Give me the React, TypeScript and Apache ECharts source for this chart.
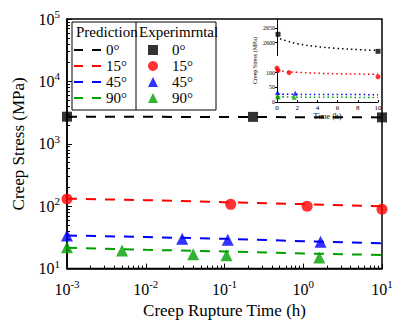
import React, { useEffect, useRef } from "react";
import * as echarts from "echarts";

const FONT = "Liberation Serif";

// main chart data
const timeGrid = [0.001, 0.01, 0.1, 1, 10];
const pred0 = [2720, 2705, 2690, 2670, 2650];
const pred15 = [132, 125, 116, 108, 100];
const pred45 = [34, 32, 30, 27.5, 25.5];
const pred90 = [21.5, 20, 18.8, 17.5, 16.5];

const exp0 = [[0.001, 2720], [0.23, 2700], [10, 2650]];
const exp15 = [[0.001, 130], [0.12, 107], [1.12, 100], [10, 89]];
const exp45 = [[0.001, 34], [0.029, 30], [0.11, 29], [1.66, 27]];
const exp90 = [[0.001, 22], [0.005, 19.5], [0.04, 17], [0.106, 16.3], [1.6, 15]];

// inset data
const in0pts = [[0.1, 2628], [10, 2570]];
const in0curve = [[0.3, 2613], [1, 2605], [2, 2596], [4, 2586], [6, 2580], [8, 2576], [10, 2573]];
const in15pts = [[0, 124], [0.1, 107], [1.2, 100], [10, 86]];
const in15curve = [[0.1, 108], [1, 103], [2, 101], [4, 98], [6, 96], [8, 95], [10, 94]];
const in45pts = [[0.05, 32], [1.8, 30]];
const in45curve = [[0.1, 27], [2, 26], [5, 25.5], [10, 25]];
const in90pts = [[0.05, 20], [0.1, 17], [1.7, 16]];
const in90curve = [[0.1, 18], [2, 16.5], [5, 16], [10, 15.5]];
const insetYTicks = [0, 50, 100, 2600, 2650];

const angles = ["0°", "15°", "45°", "90°"];
const colors = ["#000000", "#ff0000", "#0000ff", "#00a000"];
const symbols = ["rect", "circle", "triangle", "triangle"];
const predData = [pred0, pred15, pred45, pred90];
const expData = [exp0, exp15, exp45, exp90];
const inPts = [in0pts, in15pts, in45pts, in90pts];
const inCurves = [in0curve, in15curve, in45curve, in90curve];

const logFmt = (v: number) => `{b|10}{s|${Math.round(Math.log10(v))}}`;
const richSup = {
  b: { fontFamily: FONT, fontSize: 16, color: "#000" },
  s: { fontFamily: FONT, fontSize: 11, color: "#000", padding: [0, 0, 10, 0] },
};

export default function App() {
  const ref = useRef<HTMLDivElement>(null);
  useEffect(() => {
    if (!ref.current) return;
    const chart = echarts.init(ref.current, null, { renderer: "svg" });
    const series: any[] = [];
    angles.forEach((a, i) => {
      series.push({
        name: "p" + i,
        type: "line",
        xAxisIndex: 0,
        yAxisIndex: 0,
        data: timeGrid.map((t, k) => [t, predData[i][k]]),
        symbol: "none",
        lineStyle: { color: colors[i], width: 2, type: [10, 9] },
        itemStyle: { color: colors[i] },
      });
    });
    angles.forEach((a, i) => {
      series.push({
        name: "e" + i,
        type: "scatter",
        xAxisIndex: 0,
        yAxisIndex: 0,
        data: expData[i],
        symbol: symbols[i],
        symbolSize: i === 0 ? 10 : i === 1 ? 11 : 12,
        itemStyle: { color: colors[i] },
        z: 3,
      });
    });
    angles.forEach((a, i) => {
      series.push({
        name: "ic" + i,
        type: "line",
        xAxisIndex: 1,
        yAxisIndex: 1,
        data: inCurves[i],
        symbol: "none",
        smooth: true,
        lineStyle: { color: colors[i], width: 1.5, type: [1.5, 3] },
      });
      series.push({
        name: "ip" + i,
        type: "scatter",
        xAxisIndex: 1,
        yAxisIndex: 1,
        data: inPts[i],
        symbol: symbols[i],
        symbolSize: 5,
        itemStyle: { color: colors[i] },
      });
    });

    const option: any = {
      animation: false,
      backgroundColor: "#fff",
      textStyle: { fontFamily: FONT },
      grid: [
        { left: 67, right: 18, top: 19, bottom: 54, show: true, borderColor: "#000", borderWidth: 1.5, backgroundColor: "transparent" },
        { left: 277, right: 22, top: 19, bottom: 222 },
      ],
      xAxis: [
        {
          type: "log",
          gridIndex: 0,
          min: 0.001,
          max: 10,
          logBase: 10,
          name: "Creep Rupture Time (h)",
          nameLocation: "middle",
          nameGap: 32,
          nameTextStyle: { fontFamily: FONT, fontSize: 17, color: "#000" },
          axisLine: { lineStyle: { color: "#000", width: 1.5 } },
          axisTick: { inside: true, length: 5, lineStyle: { color: "#000" } },
          minorTick: { show: true, splitNumber: 9, length: 3, lineStyle: { color: "#000" } },
          splitLine: { show: false },
          axisLabel: { formatter: logFmt, rich: richSup, margin: 10, showMinLabel: true, showMaxLabel: true },
        },
        {
          type: "value",
          gridIndex: 1,
          min: 0,
          max: 10,
          interval: 2,
          name: "Time (h)",
          nameLocation: "middle",
          nameGap: 10,
          nameTextStyle: { fontFamily: FONT, fontSize: 8, color: "#000" },
          axisLine: { onZero: false, lineStyle: { color: "#000", width: 1 } },
          axisTick: { inside: true, length: 2, lineStyle: { color: "#000" } },
          splitLine: { show: false },
          axisLabel: { fontFamily: FONT, fontSize: 7, color: "#000", margin: 2 },
        },
      ],
      yAxis: [
        {
          type: "log",
          gridIndex: 0,
          min: 10,
          max: 100000,
          logBase: 10,
          name: "Creep Stress (MPa)",
          nameLocation: "middle",
          nameGap: 40,
          nameTextStyle: { fontFamily: FONT, fontSize: 17, color: "#000" },
          axisLine: { lineStyle: { color: "#000", width: 1.5 } },
          axisTick: { inside: true, length: 5, lineStyle: { color: "#000" } },
          minorTick: { show: true, splitNumber: 9, length: 3, lineStyle: { color: "#000" } },
          splitLine: { show: false },
          axisLabel: { formatter: logFmt, rich: richSup, margin: 7 },
        },
        {
          type: "value",
          gridIndex: 1,
          min: 0,
          max: 2680,
          breaks: [{ start: 115, end: 2555, gap: "15%" }],
          breakArea: { show: false },
          name: "Creep Stress (MPa)",
          nameLocation: "middle",
          nameGap: 19,
          nameTextStyle: { fontFamily: FONT, fontSize: 6, color: "#000" },
          axisLine: { lineStyle: { color: "#000", width: 1 } },
          axisTick: { inside: false, length: 2, customValues: insetYTicks, lineStyle: { color: "#000" } },
          splitLine: { show: false },
          axisLabel: {
            fontFamily: FONT,
            fontSize: 6,
            color: "#000",
            margin: 2,
            customValues: insetYTicks,
            formatter: (v: number) => String(Math.round(v)),
          },
        },
      ],
      legend: [
        {
          data: ["p0", "p1", "p2", "p3"],
          orient: "vertical",
          left: 74,
          top: 42,
          padding: 0,
          itemGap: 0,
          itemWidth: 27,
          itemHeight: 2,
          icon: "path://M0,0H9V2H0Z M18,0H27V2H18Z",
          selectedMode: false,
          formatter: (n: string) => angles[+n.slice(1)],
          textStyle: { fontFamily: FONT, fontSize: 15, color: "#000", lineHeight: 16 },
        },
        {
          data: ["e0", "e1", "e2", "e3"],
          orient: "vertical",
          left: 148,
          top: 42,
          padding: 0,
          itemGap: 0,
          itemWidth: 10,
          itemHeight: 10,
          selectedMode: false,
          formatter: (n: string) => angles[+n.slice(1)],
          textStyle: { fontFamily: FONT, fontSize: 15, color: "#000", lineHeight: 16, padding: [0, 0, 0, 9] },
        },
      ],
      graphic: [
        { type: "rect", shape: { x: 72, y: 22, width: 144, height: 88 }, style: { fill: "none", stroke: "#000", lineWidth: 1 }, z: 10 },
        { type: "line", shape: { x1: 136, y1: 22, x2: 136, y2: 110 }, style: { stroke: "#000", lineWidth: 1 }, z: 10 },
        { type: "text", left: 76, top: 24, style: { text: "Prediction", fontFamily: FONT, fontSize: 15, fill: "#000" }, z: 10 },
        { type: "text", left: 139, top: 24, style: { text: "Experimrntal", fontFamily: FONT, fontSize: 15, fill: "#000" }, z: 10 },
      ],
      series,
    };
    chart.setOption(option);
    return () => chart.dispose();
  }, []);
  return <div ref={ref} style={{ width: 400, height: 324, position: "absolute", left: 0, top: 0 }} />;
}
